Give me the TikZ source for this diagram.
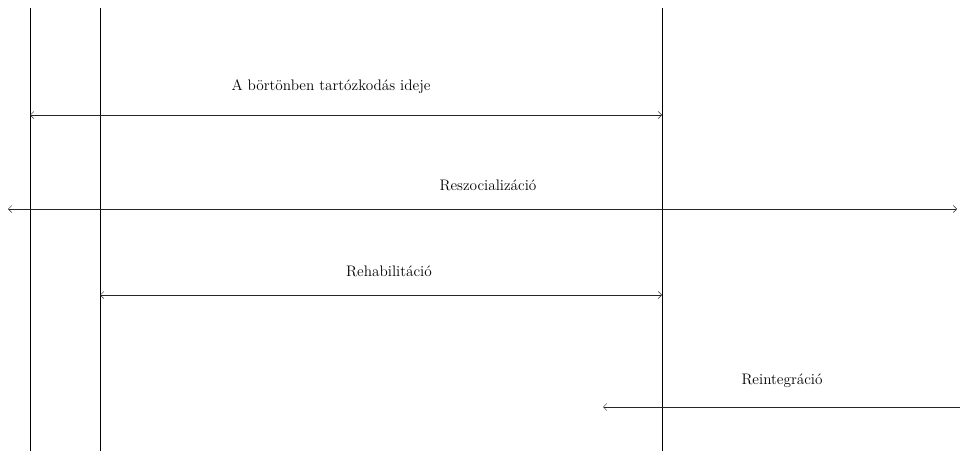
\documentclass[tikz,border=0pt]{standalone}
\usetikzlibrary{positioning,arrows.meta}

\tikzstyle{boundary} = [thin, black]
\tikzstyle{span} = [thin, black!85, <->, >={Straight Barb[length=3pt,width=6pt]}]
\tikzstyle{oneway} = [thin, black!85, ->, >={Straight Barb[length=3pt,width=6pt]}]
\tikzstyle{phase} = [font=\fontsize{13}{15}\selectfont, inner sep=0pt]

\begin{document}
\begin{tikzpicture}[x=0.03cm, y=-0.03cm]
\useasboundingbox (0,0) rectangle (960,451);

\coordinate (intop) at (30,8);
\coordinate (inbot) at (30,451);
\coordinate (rehabtop) at (100,8);
\coordinate (rehabbot) at (100,451);
\coordinate (outtop) at (662,8);
\coordinate (outbot) at (662,451);

\coordinate (timeL) at (30,115);
\coordinate (timeR) at (662,115);
\coordinate (resocL) at (8,209);
\coordinate (resocR) at (957,209);
\coordinate (rehabL) at (100,295);
\coordinate (rehabR) at (662,295);
\coordinate (reintL) at (603,407);
\coordinate (reintR) at (964,407);

\node (time) [phase] at (331,87) {A börtönben tartózkodás ideje};
\node (resoc) [phase] at (488,185) {Reszocializáció};
\node (rehab) [phase] at (389,271) {Rehabilitáció};
\node (reint) [phase] at (782,381) {Reintegráció};

\draw [boundary] (intop) -- (inbot);
\draw [boundary] (rehabtop) -- (rehabbot);
\draw [boundary] (outtop) -- (outbot);

\draw [span] (timeL) -- (timeR);
\draw [span] (resocL) -- (resocR);
\draw [span] (rehabL) -- (rehabR);
\draw [oneway] (reintR) -- (reintL);

\end{tikzpicture}
\end{document}
